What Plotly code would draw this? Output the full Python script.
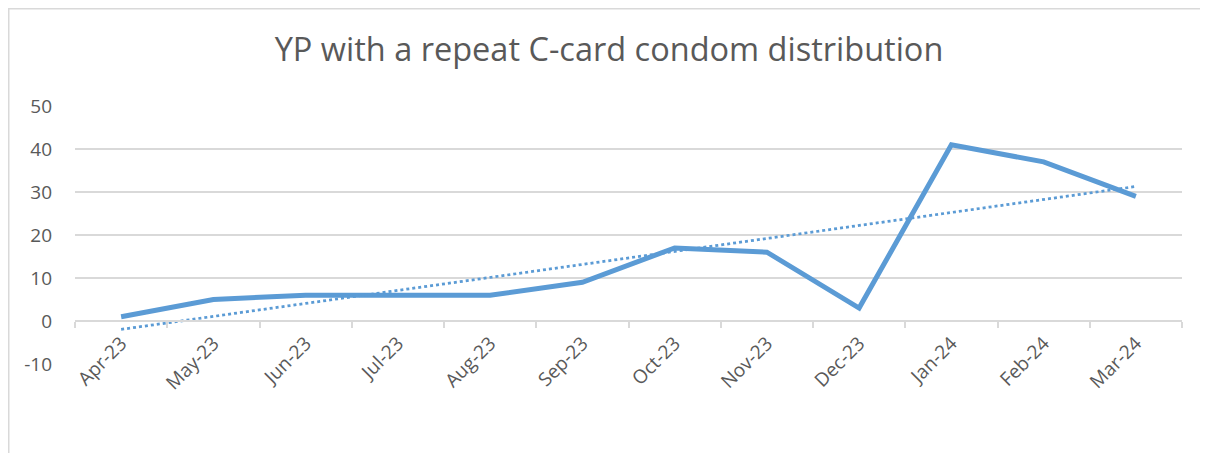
import numpy as np
import plotly.graph_objects as go

months = ["Apr-23", "May-23", "Jun-23", "Jul-23", "Aug-23", "Sep-23",
          "Oct-23", "Nov-23", "Dec-23", "Jan-24", "Feb-24", "Mar-24"]
repeat_yp = [1, 5, 6, 6, 6, 9, 17, 16, 3, 41, 37, 29]
y_ticks = [-10, 0, 10, 20, 30, 40, 50]

idx = np.arange(len(months))
slope, intercept = np.polyfit(idx, repeat_yp, 1)
trend = (slope * idx + intercept).tolist()

LINE = "#5b9bd5"
GRID = "#d9d9d9"
TXT = "#595959"
FONT = "Open Sans"

# page has an 8px body margin, so the figure is slightly smaller than the window
W, H = 1200, 445
L, R, T, B = 67, 26, 98, 89
pw, ph = W - L - R, H - T - B

fig = go.Figure()
fig.add_trace(go.Scatter(x=months, y=repeat_yp, mode="lines",
                         line=dict(color=LINE, width=5), showlegend=False))
fig.add_trace(go.Scatter(x=months, y=trend, mode="lines",
                         line=dict(color=LINE, width=2.75, dash="dot"), showlegend=False))

# outer chart border (light grey frame)
fig.add_shape(type="rect", xref="paper", yref="paper",
              x0=(0.75 - L) / pw, x1=(W + 20 - L) / pw,
              y0=-(B + 20) / ph, y1=(H - B - 0.75) / ph,
              line=dict(color=GRID, width=1.5), fillcolor="rgba(0,0,0,0)", layer="below")

fig.update_layout(
    width=W, height=H,
    margin=dict(l=L, r=R, t=T, b=B, autoexpand=False),
    paper_bgcolor="white", plot_bgcolor="white",
    font=dict(family=FONT, color=TXT),
    title=dict(text="YP with a repeat C-card condom distribution",
               x=601 / W, xref="container", xanchor="center",
               y=1 - 42 / H, yref="container", yanchor="middle",
               font=dict(family=FONT, size=32.5, color=TXT)),
    xaxis=dict(type="category", anchor="free", position=10 / 60,
               range=[-0.5, len(months) - 0.5], automargin=False,
               showgrid=False, showline=True, linecolor=GRID, linewidth=1.5,
               ticks="outside", tickson="boundaries", ticklen=6, tickcolor=GRID, tickwidth=1.5,
               tickangle=-45, ticklabelstandoff=3,
               tickfont=dict(family=FONT, size=19, color=TXT),
               zeroline=False),
    yaxis=dict(range=[-10, 50], tickvals=y_ticks, ticktext=[str(v) for v in y_ticks],
               showgrid=True, gridcolor=GRID, gridwidth=1.5,
               zeroline=False, showline=False, ticks="", ticklabelstandoff=22, automargin=False,
               tickfont=dict(family=FONT, size=19, color=TXT)),
)

fig.write_html("out.html")
